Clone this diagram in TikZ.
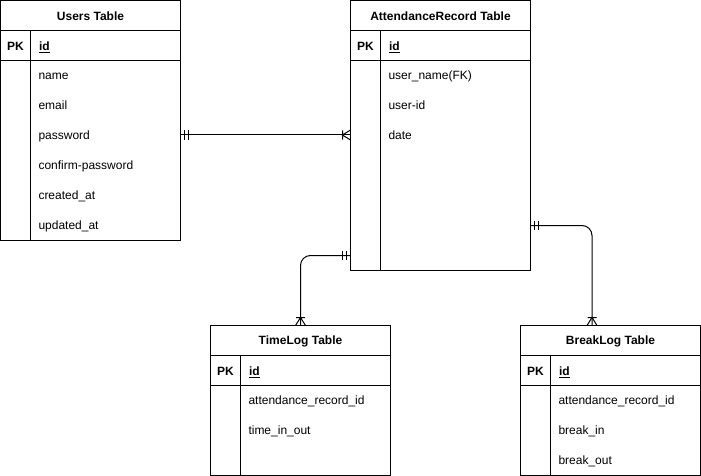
\documentclass[tikz,border=0pt]{standalone}
\usepackage{fontspec}
\setmainfont{Liberation Sans}
\usetikzlibrary{calc}
\tikzset{
  x=1pt, y=-1pt,
  every path/.style={line width=1pt},
  tbl/.style={draw, rectangle, minimum width=180pt, inner sep=0pt, outer sep=0pt},
  ttl/.style={font=\fontsize{12}{14}\selectfont\bfseries, inner sep=0pt},
  pkl/.style={font=\fontsize{12}{14}\selectfont\bfseries, inner sep=0pt, text height=8.6pt, text depth=0pt},
  fld/.style={font=\fontsize{12}{14}\selectfont, inner sep=0pt, anchor=west, text height=8.6pt, text depth=0pt},
  mandone/.pic={\draw (4,-4.5) -- (4,4.5) (8,-4.5) -- (8,4.5);},
  crowfoot/.pic={\draw (0,-5) -- (8,0) -- (0,5) (8,-4.5) -- (8,4.5);},
  conn/.style={draw, rounded corners=10pt}
}
\newcommand{\erTable}[5]{%
  \node[tbl, minimum height=#4pt, anchor=north west] (#1) at (#2,#3) {};
  \draw ($(#1.north west)+(0,30)$) -- ($(#1.north east)+(0,30)$);
  \draw ($(#1.north west)+(0,60)$) -- ($(#1.north east)+(0,60)$);
  \draw ($(#1.north west)+(30,30)$) -- ($(#1.south west)+(30,0)$);
  \node[ttl] (#1-title) at ($(#1.north)+(0,15.5)$) {#5};
  \node[pkl] (#1-pk) at ($(#1.north west)+(15,45.5)$) {PK};
  \node[fld, font=\fontsize{12}{14}\selectfont\bfseries] (#1-id) at ($(#1.north west)+(38,45.5)$) {\underline{id}};
}
\begin{document}
\begin{tikzpicture}
\useasboundingbox (0,0) rectangle (701,476);
% Users
\erTable{users}{0.5}{0.5}{240}{Users Table}
\node[fld] (u-name) at (38,75) {name};
\node[fld] (u-email) at (38,105) {email};
\node[fld] (u-password) at (38,135) {password};
\node[fld] (u-confirm) at (38,165) {confirm-password};
\node[fld] (u-created) at (38,195) {created\_at};
\node[fld] (u-updated) at (38,225) {updated\_at};
% AttendanceRecord
\erTable{ar}{350.5}{0.5}{270}{AttendanceRecord Table}
\node[fld] (a-username) at (388,75) {user\_name(FK)};
\node[fld] (a-userid) at (388,105) {user-id};
\node[fld] (a-date) at (388,135) {date};
% TimeLog
\erTable{timelog}{210.5}{325.5}{150}{TimeLog Table}
\node[fld] (t-arid) at (248,400) {attendance\_record\_id};
\node[fld] (t-inout) at (248,430) {time\_in\_out};
% BreakLog
\erTable{breaklog}{520.5}{325.5}{150}{BreakLog Table}
\node[fld] (b-arid) at (558,400) {attendance\_record\_id};
\node[fld] (b-in) at (558,430) {break\_in};
\node[fld] (b-out) at (558,460) {break\_out};
% connectors
\coordinate (c-u) at (users.east |- u-password);
\coordinate (c-a) at (ar.west |- u-password);
\draw[conn] (c-u) -- (c-a);
\pic at (c-u) {mandone};
\pic[rotate=180] at (c-a) {crowfoot};
\coordinate (c-atl) at ($(ar.south west)+(0,-15)$);
\draw[conn] (c-atl) -| (timelog.north);
\pic[rotate=180] at (c-atl) {mandone};
\pic[rotate=90] at (timelog.north) {crowfoot};
\coordinate (c-abl) at ($(ar.south east)+(0,-45)$);
\coordinate (c-bl) at ($(breaklog.north west)+(71.5,0)$);
\draw[conn] (c-abl) -| (c-bl);
\pic at (c-abl) {mandone};
\pic[rotate=90] at (c-bl) {crowfoot};
\end{tikzpicture}
\end{document}
